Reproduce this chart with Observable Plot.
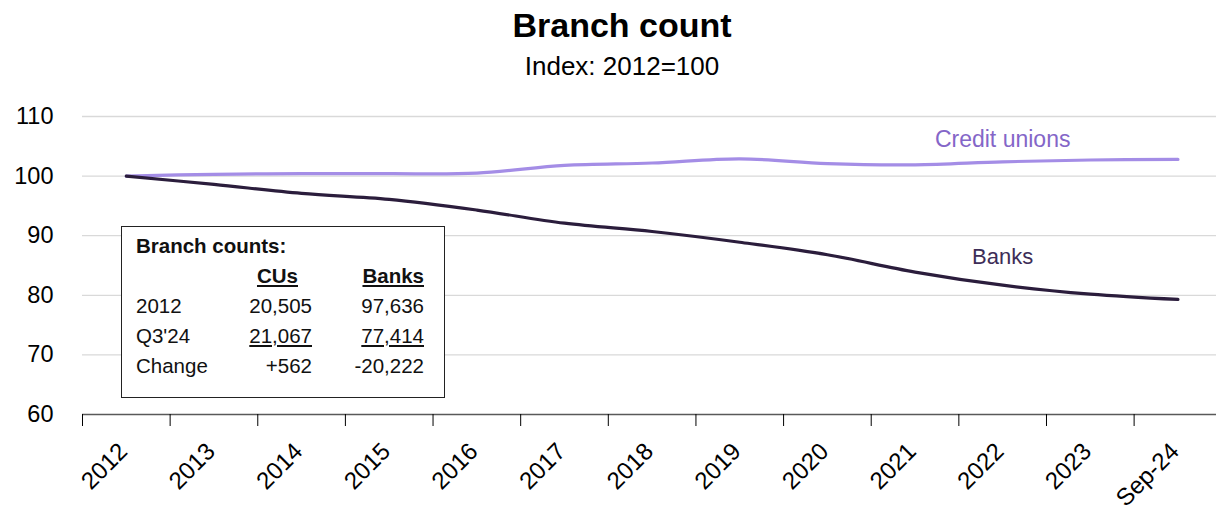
<!DOCTYPE html>
<html><head><meta charset="utf-8">
<script src="https://cdn.jsdelivr.net/npm/d3@7"></script>
<script src="https://cdn.jsdelivr.net/npm/@observablehq/plot@0.6"></script>
<style>
body{margin:0;background:#fff;font-family:"Liberation Sans",Arial,sans-serif;}
#wrap{position:relative;width:1216px;height:510px;overflow:hidden;background:#fff}
.hd{position:absolute;left:0;width:1216px;padding-left:28px;box-sizing:border-box;text-align:center;color:#000;line-height:1}
#title{top:8px;font-weight:bold;font-size:34px}
#subtitle{top:53px;font-size:26px}
#chart{position:absolute;left:0;top:90px}
#tbl{position:absolute;left:121px;top:226px;width:324px;height:172px;border:1.5px solid #222;box-sizing:border-box;background:#fff;font-size:20.5px;color:#111}
#tbl table{border-collapse:collapse;margin-left:14px;margin-top:4px}
#tbl td{height:30px;padding:0;white-space:nowrap}
#tbl .c1{width:100px;text-align:left}
#tbl .c2{width:76px;text-align:right}
#tbl .c3{width:112px;text-align:right}
#tbl .u{text-decoration:underline}
#tbl .b{font-weight:bold}
</style></head>
<body>
<div id="wrap">
  <div id="title" class="hd">Branch count</div>
  <div id="subtitle" class="hd">Index: 2012=100</div>
  <div id="chart"></div>
  <div id="tbl"></div>
</div>
<script>
const categories = ["2012","2013","2014","2015","2016","2017","2018","2019","2020","2021","2022","2023","Sep-24"];
const creditUnions = [100, 100.3, 100.4, 100.4, 100.5, 101.8, 102.2, 102.9, 102.1, 101.9, 102.4, 102.7, 102.8];
const banks = [100, 98.6, 97.1, 96.1, 94.3, 92.1, 90.7, 88.9, 86.8, 83.9, 81.7, 80.2, 79.3];
const seriesNames = ["Credit unions", "Banks"];
const yTicks = [60, 70, 80, 90, 100, 110];
const labelIndex = 10;

const tableTitle = "Branch counts:";
const tableHeader = ["", "CUs", "Banks"];
const tableRows = [
  ["2012", "20,505", "97,636"],
  ["Q3'24", "21,067", "77,414"],
  ["Change", "+562", "-20,222"]
];

const data = [];
categories.forEach((c, i) => {
  data.push({i, cat: c, series: seriesNames[0], v: creditUnions[i]});
  data.push({i, cat: c, series: seriesNames[1], v: banks[i]});
});
const idx = categories.map((_, i) => i);
const bounds = categories.map((_, i) => i - 0.5);

const lineColors = ["#a48de6", "#2b1d3c"];
const labelColors = ["#8466c8", "#3d2d57"];

const chart = Plot.plot({
  width: 1216,
  height: 420,
  marginLeft: 82,
  marginRight: 0,
  marginTop: 26,
  marginBottom: 96,
  style: {fontFamily: "'Liberation Sans', Arial, sans-serif", fontSize: "20px", color: "#000", background: "transparent"},
  x: {domain: [-0.5, 12.44], axis: null},
  y: {domain: [60, 110], axis: null},
  color: {domain: seriesNames, range: lineColors},
  marks: [
    Plot.ruleY(yTicks.filter(d => d > 60), {stroke: "#d9d9d9", strokeWidth: 1.3}),
    Plot.ruleY([60], {stroke: "#595959", strokeWidth: 1.6}),
    Plot.axisY({ticks: yTicks, label: null, tickSize: 0, tickPadding: 29, fontSize: 23.5, fill: "#000"}),
    Plot.axisX({ticks: bounds, label: null, tickSize: 12, stroke: "#000", tickFormat: () => ""}),
    Plot.axisX({ticks: idx, label: null, tickSize: 0, tickPadding: 0, tickFormat: i => categories[i], tickRotate: -45,
      textAnchor: "end", lineAnchor: "middle", dx: -3, dy: 33, fontSize: 24, fill: "#000"}),
    Plot.line(data, {x: "i", y: "v", z: "series", stroke: "series", curve: "catmull-rom", strokeWidth: 3.2}),
    Plot.text(data.filter(d => d.i === labelIndex && d.series === seriesNames[0]), {x: "i", y: "v", text: "series", dy: -22, fontSize: 23, fill: labelColors[0]}),
    Plot.text(data.filter(d => d.i === labelIndex && d.series === seriesNames[1]), {x: "i", y: "v", text: "series", dy: -28, fontSize: 22, fill: labelColors[1]})
  ]
});
document.getElementById("chart").appendChild(chart);

// info table
const tbl = document.getElementById("tbl");
let html = `<table><tr><td class="b" colspan="3">${tableTitle}</td></tr>`;
html += `<tr><td class="c1"></td><td class="c2"><span class="b u" style="margin-right:14px">${tableHeader[1]}</span></td><td class="c3"><span class="b u">${tableHeader[2]}</span></td></tr>`;
tableRows.forEach((r, k) => {
  const u = k === 1 ? " u" : "";
  html += `<tr><td class="c1">${r[0]}</td><td class="c2${u}">${r[1]}</td><td class="c3${u}">${r[2]}</td></tr>`;
});
html += `</table>`;
tbl.innerHTML = html;
</script>
</body></html>
